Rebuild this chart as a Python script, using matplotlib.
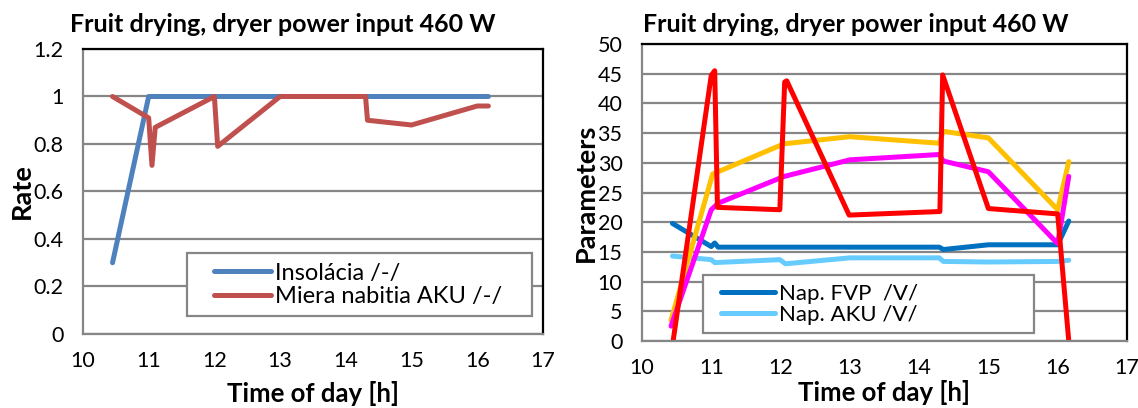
import matplotlib
matplotlib.use("Agg")
import matplotlib.pyplot as plt
from matplotlib.patches import Rectangle

plt.rcParams['font.family'] = ['Lato', 'DejaVu Sans']

# Left panel: insolation and battery charge rate
t_insol = [10.45, 11.0, 16.17]
insolacia = [0.30, 1.0, 1.0]

t_charge = [10.45, 11.0, 11.05, 11.1, 12.0, 12.05, 13.0, 14.3, 14.33, 15.0, 16.0, 16.17]
miera_nabitia = [1.0, 0.91, 0.71, 0.87, 1.0, 0.79, 1.0, 1.0, 0.90, 0.88, 0.96, 0.96]

# Right panel: voltages and other parameters
t_fvp = [10.44, 11.0, 11.05, 11.1, 14.29, 14.35, 15.0, 16.0, 16.16]
nap_fvp = [19.8, 15.9, 16.5, 15.8, 15.8, 15.4, 16.2, 16.2, 20.2]

t_aku = [10.44, 11.0, 11.05, 11.99, 12.07, 13.0, 14.29, 14.35, 15.0, 16.0, 16.16]
nap_aku = [14.3, 13.7, 13.2, 13.7, 13.0, 14.0, 14.0, 13.4, 13.3, 13.4, 13.6]

t_orange = [10.42, 11.02, 11.1, 12.05, 13.0, 14.29, 14.35, 15.0, 16.0, 16.16]
param_orange = [3.5, 28.1, 28.5, 33.2, 34.4, 33.3, 35.3, 34.2, 22.1, 30.2]

t_magenta = [10.42, 11.0, 11.1, 12.05, 13.0, 14.29, 14.35, 15.0, 16.0, 16.16]
param_magenta = [2.5, 22.1, 23.2, 27.7, 30.5, 31.4, 30.3, 28.5, 16.4, 27.7]

t_red = [10.45, 11.0, 11.05, 11.09, 11.99, 12.06, 12.09, 12.99, 14.3, 14.34, 15.0, 16.0, 16.16]
param_red = [0.0, 44.7, 45.5, 22.5, 22.1, 43.6, 43.8, 21.2, 21.8, 44.8, 22.3, 21.4, 0.0]

TITLE = 'Fruit drying, dryer power input 460 W'
LW = 3.6
GRID = '#868686'


def style_axes(ax, ymax, ystep):
    ax.set_xlim(10, 17)
    ax.set_ylim(0, ymax)
    ax.set_xticks(range(10, 18))
    ticks = [i * ystep for i in range(int(round(ymax / ystep)) + 1)]
    ax.set_yticks(ticks)
    ax.grid(True, axis='y', color=GRID, linewidth=1.6)
    ax.set_axisbelow(True)
    for side in ('left', 'bottom'):
        ax.spines[side].set_color(GRID)
        ax.spines[side].set_linewidth(1.6)
    for side in ('top', 'right'):
        ax.spines[side].set_color('black')
        ax.spines[side].set_linewidth(1.6)
    ax.tick_params(length=0, labelsize=15.5)
    ax.tick_params(axis='y', pad=14)
    ax.tick_params(axis='x', pad=12)


def line(ax, x, y, color, label=None):
    return ax.plot(x, y, color=color, lw=LW, solid_capstyle='round',
                   solid_joinstyle='round', label=label)[0]


def boxed_legend(ax, handles, box, anchor, fontsize, spacing):
    # white box with a grey border, entries placed inside it
    x0, y0, x1, y1 = box
    ax.add_patch(Rectangle((x0, y0), x1 - x0, y1 - y0, transform=ax.transAxes,
                           facecolor='white', edgecolor=GRID, lw=1.6,
                           zorder=2.5))
    leg = ax.legend(handles=handles, loc='center left', bbox_to_anchor=anchor,
                    fontsize=fontsize, frameon=False, handlelength=2.4,
                    handletextpad=0.18, borderpad=0, borderaxespad=0,
                    labelspacing=spacing)
    leg.set_zorder(3)
    return leg


fig = plt.figure(figsize=(11.38, 4.08), dpi=100)

# left chart
ax1 = fig.add_axes([0.0729, 0.1814, 0.4042, 0.6985])
style_axes(ax1, 1.2, 0.2)
ax1.set_yticklabels(['0', '0.2', '0.4', '0.6', '0.8', '1', '1.2'])
h1 = line(ax1, t_insol, insolacia, '#4F81BD', 'Insolácia /-/')
h2 = line(ax1, t_charge, miera_nabitia, '#C0504D', 'Miera nabitia AKU /-/')
ax1.set_title(TITLE, fontsize=18, fontweight='bold', x=0.435, pad=12.6)
ax1.set_ylabel('Rate', fontsize=19.5, fontweight='bold', labelpad=0)
ax1.set_xlabel('Time of day [h]', fontsize=18.5, fontweight='bold', labelpad=7.5)
boxed_legend(ax1, [h1, h2], (0.226, 0.063, 0.976, 0.284), (0.285, 0.172),
             17, 0.12)

# right chart
ax2 = fig.add_axes([0.5641, 0.1642, 0.4262, 0.7279])
style_axes(ax2, 50, 5)
l_fvp = line(ax2, t_fvp, nap_fvp, '#0070C0', 'Nap. FVP  /V/')
l_aku = line(ax2, t_aku, nap_aku, '#66CCFF', 'Nap. AKU /V/')
line(ax2, t_orange, param_orange, '#FFC000')
line(ax2, t_magenta, param_magenta, '#FF00FF')
line(ax2, t_red, param_red, '#FF0000')
ax2.set_title(TITLE, fontsize=18, fontweight='bold', x=0.441, pad=8.3)
ax2.set_ylabel('Parameters', fontsize=19.5, fontweight='bold', labelpad=0)
ax2.set_xlabel('Time of day [h]', fontsize=18.5, fontweight='bold', labelpad=2)
boxed_legend(ax2, [l_fvp, l_aku], (0.126, 0.027, 0.808, 0.222), (0.164, 0.124),
             16, 0.03)

fig.savefig('out.png', dpi=100)
